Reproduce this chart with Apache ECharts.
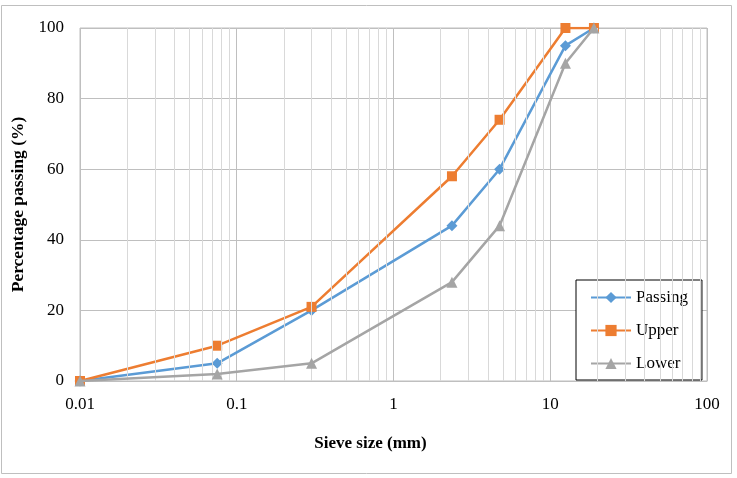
<!DOCTYPE html>
<html>
<head>
<meta charset="utf-8">
<script src="https://cdn.jsdelivr.net/npm/echarts@6/dist/echarts.min.js"></script>
<style>
  html, body { margin: 0; padding: 0; background: #fff; }
  #chart { width: 737px; height: 478px; }
</style>
</head>
<body>
<div id="chart"></div>
<script>
// sieve sizes (mm)
const sieveSizes = [0.01, 0.075, 0.3, 2.36, 4.75, 12.5, 19];
const passing = [0, 5, 20, 44, 60, 95, 100];
const upper = [0, 10, 21, 58, 74, 100, 100];
const lower = [0, 2, 5, 28, 44, 90, 100];
// minor grid positions on the log axis
const minorGrid = [];
[0.01, 0.1, 1, 10].forEach((d) => {
  for (let k = 2; k <= 9; k++) minorGrid.push(+(d * k).toPrecision(3));
});

const serif = '"Liberation Serif", "DejaVu Serif", serif';
const pairs = (ys) => sieveSizes.map((x, i) => [x, ys[i]]);

const chart = echarts.init(document.getElementById('chart'));
chart.setOption({
  animation: false,
  textStyle: { fontFamily: serif },
  graphic: [
    {
      type: 'rect',
      shape: { x: 1.5, y: 5.5, width: 730, height: 468 },
      style: { fill: 'none', stroke: '#bfbfbf', lineWidth: 1 },
      silent: true,
    },
  ],
  grid: { left: 80, right: 30, top: 28, bottom: 97, show: true, borderColor: '#bfbfbf', borderWidth: 1 },
  legend: {
    orient: 'vertical',
    left: 576,
    top: 280,
    itemGap: 16,
    itemWidth: 40,
    itemHeight: 14,
    padding: [9, 14, 8, 14],
    borderColor: '#000',
    borderWidth: 1,
    backgroundColor: '#fff',
    textStyle: { fontFamily: serif, fontSize: 17, color: '#000', width: 58 },
    data: ['Passing', 'Upper', 'Lower'],
  },
  xAxis: {
    type: 'log',
    logBase: 10,
    min: 0.01,
    max: 100,
    name: 'Sieve size (mm)',
    nameLocation: 'middle',
    nameGap: 54,
    nameTextStyle: { fontFamily: serif, fontSize: 17, fontWeight: 'bold', color: '#000', padding: [0, 46, 0, 0] },
    axisLine: { show: true, onZero: false, lineStyle: { color: '#bfbfbf' } },
    axisTick: { show: false },
    axisLabel: { fontFamily: serif, fontSize: 17, color: '#000', margin: 15 },
    splitLine: { show: true, lineStyle: { color: '#bfbfbf', width: 1 } },
  },
  yAxis: {
    type: 'value',
    min: 0,
    max: 100,
    interval: 20,
    name: 'Percentage passing (%)',
    nameLocation: 'middle',
    nameGap: 50,
    nameTextStyle: { fontFamily: serif, fontSize: 17.5, fontWeight: 'bold', color: '#000' },
    axisLine: { show: false },
    axisTick: { show: false },
    axisLabel: { fontFamily: serif, fontSize: 17, color: '#000', margin: 16 },
    splitLine: { show: true, lineStyle: { color: '#bfbfbf', width: 1 } },
  },
  series: [
    {
      name: 'minor',
      type: 'line',
      data: [],
      silent: true,
      markLine: {
        silent: true,
        symbol: 'none',
        label: { show: false },
        lineStyle: { color: '#d9d9d9', width: 1, type: 'solid' },
        data: minorGrid.map((v) => ({ xAxis: v })),
      },
      z: 1,
    },
    {
      name: 'Passing',
      type: 'line',
      data: pairs(passing),
      symbol: 'diamond',
      symbolSize: 11,
      color: '#5b9bd5',
      lineStyle: { width: 2.5 },
      z: 3,
    },
    {
      name: 'Upper',
      type: 'line',
      data: pairs(upper),
      symbol: 'rect',
      symbolSize: 10,
      color: '#ed7d31',
      lineStyle: { width: 2.5 },
      z: 4,
    },
    {
      name: 'Lower',
      type: 'line',
      data: pairs(lower),
      symbol: 'triangle',
      symbolSize: 11,
      color: '#a5a5a5',
      lineStyle: { width: 2.5 },
      z: 5,
    },
  ],
});
</script>
</body>
</html>
